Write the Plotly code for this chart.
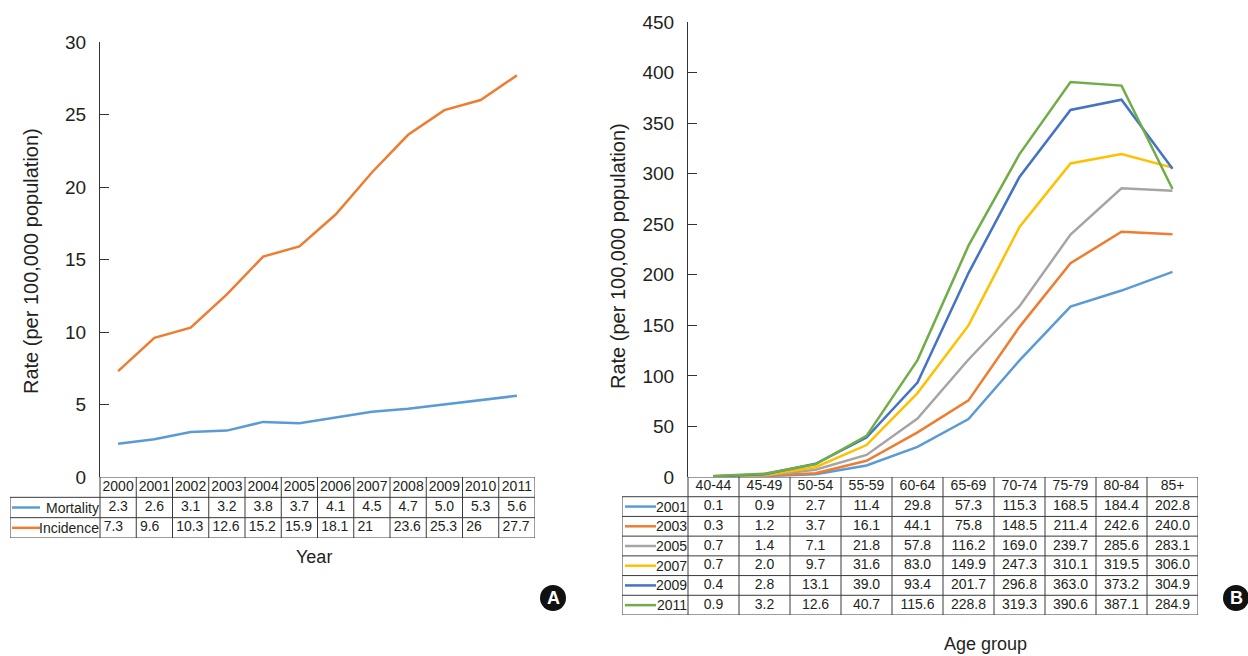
import plotly.graph_objects as go

# ---------------- data ----------------
years = [2000, 2001, 2002, 2003, 2004, 2005, 2006, 2007, 2008, 2009, 2010, 2011]
mortality = [2.3, 2.6, 3.1, 3.2, 3.8, 3.7, 4.1, 4.5, 4.7, 5.0, 5.3, 5.6]
incidence = [7.3, 9.6, 10.3, 12.6, 15.2, 15.9, 18.1, 21, 23.6, 25.3, 26, 27.7]

age_groups = ["40-44", "45-49", "50-54", "55-59", "60-64", "65-69", "70-74", "75-79", "80-84", "85+"]
b_years = ["2001", "2003", "2005", "2007", "2009", "2011"]
rate_2001 = [0.1, 0.9, 2.7, 11.4, 29.8, 57.3, 115.3, 168.5, 184.4, 202.8]
rate_2003 = [0.3, 1.2, 3.7, 16.1, 44.1, 75.8, 148.5, 211.4, 242.6, 240.0]
rate_2005 = [0.7, 1.4, 7.1, 21.8, 57.8, 116.2, 169.0, 239.7, 285.6, 283.1]
rate_2007 = [0.7, 2.0, 9.7, 31.6, 83.0, 149.9, 247.3, 310.1, 319.5, 306.0]
rate_2009 = [0.4, 2.8, 13.1, 39.0, 93.4, 201.7, 296.8, 363.0, 373.2, 304.9]
rate_2011 = [0.9, 3.2, 12.6, 40.7, 115.6, 228.8, 319.3, 390.6, 387.1, 284.9]
b_series = [rate_2001, rate_2003, rate_2005, rate_2007, rate_2009, rate_2011]

a_colors = ["#5b9bd5", "#ed7d31"]
b_colors = ["#5b9bd5", "#ed7d31", "#a5a5a5", "#ffc000", "#4472c4", "#70ad47"]

# ---------------- layout helpers ----------------
W, H = 1248, 656
FONT = "Liberation Sans, Arial, sans-serif"
TXT = "#231f20"
GRID = "#3a3a3a"
TS = 14  # table font size


def xp(px):
    return px / W


def yp(py):
    return 1 - py / H


fig = go.Figure()

# ---- chart A lines ----
fig.add_trace(go.Scatter(x=years, y=mortality, mode="lines", name="Mortality",
                         line=dict(color=a_colors[0], width=2.5), xaxis="x", yaxis="y"))
fig.add_trace(go.Scatter(x=years, y=incidence, mode="lines", name="Incidence",
                         line=dict(color=a_colors[1], width=2.5), xaxis="x", yaxis="y"))

# ---- chart B lines ----
idx = list(range(len(age_groups)))
for name, vals, c in zip(b_years, b_series, b_colors):
    fig.add_trace(go.Scatter(x=idx, y=vals, mode="lines", name=name,
                             line=dict(color=c, width=2.5), xaxis="x2", yaxis="y2"))

shapes = []
annotations = []

# ---- table A ----
a_left, a_mid, a_right = 10, 100, 535
a_col = (a_right - a_mid) / len(years)
a_lab = (a_mid - a_left) / a_col
x0A = years[0] - 0.5
x1A = years[-1] + 0.5
xLA = x0A - a_lab

fig.add_trace(go.Scatter(x=years, y=[2.5] * len(years), mode="text",
                         text=[str(y) for y in years],
                         textfont=dict(size=TS, color=TXT, family=FONT),
                         xaxis="x3", yaxis="y3", hoverinfo="skip"))
fig.add_trace(go.Scatter(x=years, y=[1.5] * len(years), mode="text",
                         text=[f"{v:.1f}" for v in mortality],
                         textfont=dict(size=TS, color=TXT, family=FONT),
                         xaxis="x3", yaxis="y3", hoverinfo="skip"))
fig.add_trace(go.Scatter(x=[y - 0.4 for y in years], y=[0.5] * len(years), mode="text",
                         text=[f"{v:g}" for v in incidence], textposition="middle right",
                         textfont=dict(size=TS, color=TXT, family=FONT),
                         xaxis="x3", yaxis="y3", hoverinfo="skip"))

for k in range(len(years) + 1):
    shapes.append(dict(type="line", xref="x3", yref="y3", x0=x0A + k, x1=x0A + k, y0=0, y1=3,
                       line=dict(color=GRID, width=1)))
shapes.append(dict(type="line", xref="x3", yref="y3", x0=xLA, x1=xLA, y0=0, y1=2,
                   line=dict(color=GRID, width=1)))
shapes.append(dict(type="line", xref="x3", yref="y3", x0=x0A, x1=x1A, y0=3, y1=3,
                   line=dict(color=GRID, width=1)))
for yy in [0, 1, 2]:
    shapes.append(dict(type="line", xref="x3", yref="y3", x0=xLA, x1=x1A, y0=yy, y1=yy,
                       line=dict(color=GRID, width=1)))
for r, (lab, c) in enumerate(zip(["Mortality", "Incidence"], a_colors)):
    yy = 1.5 - r
    shapes.append(dict(type="line", xref="x3", yref="y3", x0=xLA + 2 / a_col, x1=xLA + 30 / a_col,
                       y0=yy, y1=yy, line=dict(color=c, width=2.5)))
    annotations.append(dict(x=x0A, y=yy, xref="x3", yref="y3", text=lab, showarrow=False,
                            xanchor="right", yanchor="middle", xshift=1,
                            font=dict(size=TS, color=TXT, family=FONT)))

# ---- table B ----
b_left, b_mid, b_right = 622, 688, 1198
b_col = (b_right - b_mid) / len(age_groups)
b_lab = (b_mid - b_left) / b_col
x0B = -0.5
x1B = len(age_groups) - 0.5
xLB = x0B - b_lab
nR = len(b_years)

fig.add_trace(go.Scatter(x=idx, y=[nR + 0.5] * len(idx), mode="text", text=age_groups,
                         textfont=dict(size=TS, color=TXT, family=FONT),
                         xaxis="x4", yaxis="y4", hoverinfo="skip"))
for r, vals in enumerate(b_series):
    yy = nR - r - 0.5
    fig.add_trace(go.Scatter(x=idx, y=[yy] * len(idx), mode="text",
                             text=[f"{v:.1f}" for v in vals],
                             textfont=dict(size=TS, color=TXT, family=FONT),
                             xaxis="x4", yaxis="y4", hoverinfo="skip"))

for k in range(len(age_groups) + 1):
    shapes.append(dict(type="line", xref="x4", yref="y4", x0=x0B + k, x1=x0B + k, y0=0, y1=nR + 1,
                       line=dict(color=GRID, width=1)))
shapes.append(dict(type="line", xref="x4", yref="y4", x0=xLB, x1=xLB, y0=0, y1=nR,
                   line=dict(color=GRID, width=1)))
shapes.append(dict(type="line", xref="x4", yref="y4", x0=x0B, x1=x1B, y0=nR + 1, y1=nR + 1,
                   line=dict(color=GRID, width=1)))
for yy in range(nR + 1):
    shapes.append(dict(type="line", xref="x4", yref="y4", x0=xLB, x1=x1B, y0=yy, y1=yy,
                       line=dict(color=GRID, width=1)))
for r, (lab, c) in enumerate(zip(b_years, b_colors)):
    yy = nR - r - 0.5
    shapes.append(dict(type="line", xref="x4", yref="y4", x0=xLB + 3 / b_col, x1=xLB + 34 / b_col,
                       y0=yy, y1=yy, line=dict(color=c, width=2.5)))
    annotations.append(dict(x=x0B, y=yy, xref="x4", yref="y4", text=lab, showarrow=False,
                            xanchor="right", yanchor="middle", xshift=1,
                            font=dict(size=TS, color=TXT, family=FONT)))

# ---- titles ----
C = dict(xref="paper", yref="paper", showarrow=False, xanchor="center", yanchor="middle")
annotations += [
    dict(x=xp(31), y=yp(261), text="Rate (per 100,000 population)", textangle=-90,
         font=dict(size=20, color=TXT, family=FONT), **C),
    dict(x=xp(618), y=yp(256), text="Rate (per 100,000 population)", textangle=-90,
         font=dict(size=20, color=TXT, family=FONT), **C),
    dict(x=xp(314), y=yp(557), text="Year", font=dict(size=18, color=TXT, family=FONT), **C),
    dict(x=xp(985), y=yp(644), text="Age group", font=dict(size=18, color=TXT, family=FONT), **C),
    dict(x=xp(553), y=yp(598), text="<b>A</b>", font=dict(size=18, color="white", family=FONT), **C),
    dict(x=xp(1236), y=yp(598), text="<b>B</b>", font=dict(size=18, color="white", family=FONT), **C),
]
for cx in (553, 1236):
    shapes.append(dict(type="circle", xref="paper", yref="paper",
                       x0=xp(cx - 13), x1=xp(cx + 13), y0=yp(598 + 13), y1=yp(598 - 13),
                       fillcolor="#111111", line=dict(width=0), layer="below"))

yaxis_common = dict(showline=True, linecolor="#333333", linewidth=1, ticks="inside",
                    ticklen=9, tickcolor="#333333", showgrid=False, zeroline=False,
                    automargin=False, ticklabelstandoff=9,
                    tickfont=dict(size=19, color=TXT, family=FONT))
hidden = dict(visible=False, showgrid=False, zeroline=False, fixedrange=True, automargin=False)

fig.update_layout(
    width=W, height=H, autosize=False,
    margin=dict(l=0, r=0, t=0, b=0, pad=0, autoexpand=False),
    paper_bgcolor="white", plot_bgcolor="rgba(0,0,0,0)",
    showlegend=False,
    font=dict(family=FONT, color=TXT),
    xaxis=dict(domain=[xp(100), xp(535)], range=[x0A, x1A], anchor="y", **hidden),
    yaxis=dict(domain=[yp(477), yp(42)], range=[0, 30], dtick=5, anchor="x", **yaxis_common),
    xaxis2=dict(domain=[xp(688), xp(1198)], range=[x0B, x1B], anchor="y2", **hidden),
    yaxis2=dict(domain=[yp(477), yp(22)], range=[0, 450], dtick=50, anchor="x2", **yaxis_common),
    xaxis3=dict(domain=[xp(a_left), xp(a_right)], range=[xLA, x1A], anchor="y3", **hidden),
    yaxis3=dict(domain=[yp(538), yp(477)], range=[0, 3], anchor="x3", **hidden),
    xaxis4=dict(domain=[xp(b_left), xp(b_right)], range=[xLB, x1B], anchor="y4", **hidden),
    yaxis4=dict(domain=[yp(615), yp(477)], range=[0, nR + 1], anchor="x4", **hidden),
    shapes=shapes,
    annotations=annotations,
)

fig.write_html("out.html", config={"displayModeBar": False},
               post_script="document.body.style.margin='0';document.body.style.overflow='hidden';")
